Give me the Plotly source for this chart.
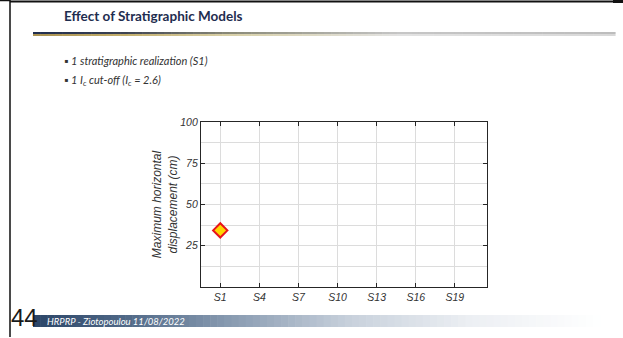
import plotly.graph_objects as go

# ---- data ----
tick_labels = ["S1", "S4", "S7", "S10", "S13", "S16", "S19"]
realizations = ["S1"]
max_disp_cm = [34.3]
y_tick_vals = [25, 50, 75, 100]
y_minor_vals = [12.5, 37.5, 62.5, 87.5]

# ---- geometry ----
W, H = 623, 338
L, R, T, B = 201, 136, 122, 51
PW, PH = W - L - R, H - T - B


def px(x):
    return (x - L) / PW


def py(y):
    return 1 - (y - T) / PH


def pos(s):
    return int(s[1:])


def hex2rgb(h):
    h = h.lstrip("#")
    return [int(h[i:i + 2], 16) for i in (0, 2, 4)]


def interp(stops, x):
    for (x0, c0), (x1, c1) in zip(stops, stops[1:]):
        if x0 <= x <= x1:
            t = (x - x0) / (x1 - x0) if x1 > x0 else 0
            a, b = hex2rgb(c0), hex2rgb(c1)
            return "rgb(%d,%d,%d)" % tuple(round(a[i] + (b[i] - a[i]) * t) for i in range(3))
    return stops[-1][1] if x > stops[-1][0] else stops[0][1]


shapes = []


def gradient_bar(x0, x1, y0, y1, stops, n=80):
    step = (x1 - x0) / n
    for i in range(n):
        xa = x0 + i * step
        xb = xa + step + 0.6
        c = interp(stops, xa + step / 2)
        shapes.append(dict(type="rect", xref="paper", yref="paper",
                           x0=px(xa), x1=px(xb), y0=py(y1), y1=py(y0),
                           fillcolor=c, line=dict(width=0), layer="below"))


fig = go.Figure()
fig.add_trace(go.Scatter(
    x=[pos(s) for s in realizations], y=max_disp_cm, mode="markers",
    marker=dict(symbol="diamond", size=11, color="#ffd600",
                line=dict(color="#e8141c", width=2)),
    showlegend=False, cliponaxis=False, hoverinfo="skip"))

# slide decorations
shapes.append(dict(type="line", xref="paper", yref="paper", x0=px(10), x1=px(10),
                   y0=py(0), y1=py(337), line=dict(color="#4a4a4a", width=2)))
shapes.append(dict(type="line", xref="paper", yref="paper", x0=px(10), x1=px(614),
                   y0=py(1.5), y1=py(1.5), line=dict(color="#111111", width=2)))
shapes.append(dict(type="rect", xref="paper", yref="paper", x0=px(613), x1=px(623),
                   y0=py(3), y1=py(0), fillcolor="#111111", line=dict(width=0)))
shapes.append(dict(type="line", xref="paper", yref="paper", x0=px(0), x1=px(10),
                   y0=py(0.5), y1=py(0.5), line=dict(color="#111111", width=1.5)))

# title underline (two-tone gradient)
gradient_bar(33, 615, 32, 34, [(33, "#1f2d4f"), (120, "#3a4050"), (230, "#8a8a78"),
                               (400, "#c6c6c6"), (615, "#bdbdbd")])
gradient_bar(33, 615, 34, 36, [(33, "#a89050"), (120, "#c2ad6a"), (230, "#d8d0a8"),
                               (400, "#e2e2e2"), (615, "#d8d8d8")])
# footer bar
gradient_bar(33, 600, 315, 327, [(33, "#2b4567"), (120, "#4d6685"), (220, "#8396ad"),
                                 (350, "#c8d1dc"), (470, "#eceff3"), (600, "#ffffff")])

annotations = [
    dict(text="Effect of Stratigraphic Models", x=px(62), y=py(16),
         font=dict(family="Lato", size=13.5, color="#1f2d4f", weight="bold")),
    dict(text="▪ 1 stratigraphic realization (S1)", x=px(62), y=py(60),
         font=dict(family="Lato", size=11, color="#333333", style="italic")),
    dict(text="▪ 1 I<sub>c</sub> cut-off (I<sub>c</sub> = 2.6)", x=px(62), y=py(80),
         font=dict(family="Lato", size=11, color="#333333", style="italic")),
    dict(text="44", x=px(9), y=py(317),
         font=dict(family="Liberation Sans", size=24, color="#1a1a1a")),
    dict(text="HRPRP - Ziotopoulou 11/08/2022", x=px(45), y=py(321),
         font=dict(family="Lato", size=9.5, color="#ffffff", style="italic")),
]
for a in annotations:
    a.update(xref="paper", yref="paper", xanchor="left", yanchor="middle",
             showarrow=False)

axis_common = dict(
    showline=True, linecolor="#262626", linewidth=1.2, mirror="ticks",
    ticks="inside", ticklen=4, tickwidth=1.2, tickcolor="#262626",
    showgrid=True, gridcolor="#dcdcdc", gridwidth=1, zeroline=False,
    tickfont=dict(family="Liberation Sans", size=10.5, color="#333333", style="italic"),
    fixedrange=True,
)

fig.update_layout(
    width=W, height=H, autosize=False,
    margin=dict(l=L, r=R, t=T, b=B, pad=0),
    paper_bgcolor="white", plot_bgcolor="white",
    shapes=shapes, annotations=annotations,
    xaxis=dict(range=[-0.48, 21.47], tickvals=[pos(s) for s in tick_labels],
               ticktext=tick_labels, **axis_common),
    yaxis=dict(range=[0, 100], tickvals=y_tick_vals,
               minor=dict(tickvals=y_minor_vals, showgrid=True, gridcolor="#dcdcdc", ticks=""),
               title=dict(text="Maximum horizontal<br>displacement (cm)", standoff=0,
                          font=dict(family="Liberation Sans", size=12, color="#333333",
                                    style="italic")),
               **axis_common),
    showlegend=False,
)

fig.write_html("out.html", config={"displayModeBar": False},
               post_script="document.body.style.margin='0';document.body.style.overflow='hidden';")
